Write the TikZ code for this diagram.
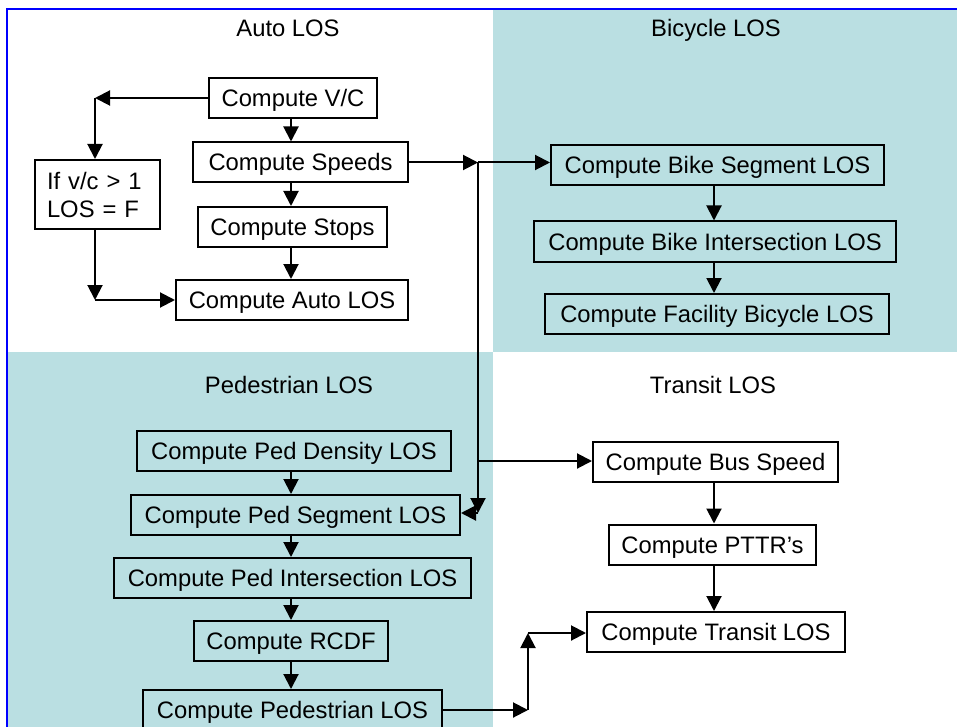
\documentclass[tikz,border=0pt]{standalone}
\usepackage{fontspec}
\setmainfont{Liberation Sans}
\usetikzlibrary{arrows.meta}
\definecolor{tealbg}{RGB}{186,223,226}
\definecolor{frameblue}{RGB}{0,0,255}
\tikzset{
  boxbase/.style={draw=black, line width=1pt, inner sep=0pt,
              font=\fontsize{11.9pt}{14pt}\selectfont},
  box/.style={boxbase, minimum height=20pt, text height=8.5pt, text depth=0pt},
  ttl/.style={font=\fontsize{11.9pt}{14pt}\selectfont, inner sep=0pt, text height=8.5pt, text depth=0pt},
  arr/.style={line width=1pt, -{Triangle[length=7.5pt,width=7.5pt]}},
  ln/.style={line width=1pt}
}
\begin{document}
\begin{tikzpicture}[x=0.5pt,y=-0.5pt]
\useasboundingbox (0,0) rectangle (957,727);
\clip (0,0) rectangle (957,727);
% backgrounds
\fill[tealbg] (493,9) rectangle (970,352);
\fill[tealbg] (7,352) rectangle (493,740);
\draw[frameblue, line width=1pt] (7,740) -- (7,9) -- (970,9);
% titles
\node[ttl] (tauto) at (288,28.5) {Auto LOS};
\node[ttl] (tbike) at (716,28.5) {Bicycle LOS};
\node[ttl] (tped) at (289,385) {Pedestrian LOS};
\node[ttl] (ttransit) at (713,385) {Transit LOS};
% auto
\node[box, minimum width=84pt] (vc) at (293,98) {Compute V/C};
\node[box, minimum width=107.5pt] (speeds) at (300.5,162.5) {Compute Speeds};
\node[box, minimum width=94.5pt] (stops) at (292.5,227) {Compute Stops};
\node[box, minimum width=116pt] (autolos) at (292,300) {Compute Auto LOS};
\node[boxbase, inner xsep=6pt, text width=50.5pt, minimum height=34.5pt, align=left] (ifbox) at (97.5,194.5) {If v/c > 1\\LOS = F};
% bike
\node[box, minimum width=166.5pt] (bikeseg) at (717.5,165) {Compute Bike Segment LOS};
\node[box, minimum width=181pt] (bikeint) at (715,241.5) {Compute Bike Intersection LOS};
\node[box, minimum width=172pt] (bikefac) at (717,314) {Compute Facility Bicycle LOS};
% ped
\node[box, minimum width=157pt] (peddens) at (294,451) {Compute Ped Density LOS};
\node[box, minimum width=164.5pt] (pedseg) at (295.5,515) {Compute Ped Segment LOS};
\node[box, minimum width=178.5pt] (pedint) at (292.5,578) {Compute Ped Intersection LOS};
\node[box, minimum width=97pt] (rcdf) at (291,641) {Compute RCDF};
\node[box, minimum width=149.5pt] (pedlos) at (292.5,710) {Compute Pedestrian LOS};
% transit
\node[box, minimum width=122.5pt] (bus) at (715.5,462) {Compute Bus Speed};
\node[box, minimum width=103.5pt] (pttr) at (712.5,544.5) {Compute PTTR’s};
\node[box, minimum width=129pt] (transit) at (716,632) {Compute Transit LOS};
% helper coordinates
\coordinate (ax) at (291,0);
\coordinate (bx) at (714,0);
\coordinate (c1) at (95,98);
\coordinate (c2) at (95,300);
\coordinate (j1) at (478,162.5);
\coordinate (j2) at (478,513);
\coordinate (j3) at (478,461);
\coordinate (k1) at (528,710);
\coordinate (k2) at (528,633);
% auto connectors
\draw[arr] (vc.south -| ax) -- (speeds.north -| ax);
\draw[arr] (speeds.south -| ax) -- (stops.north -| ax);
\draw[arr] (stops.south -| ax) -- (autolos.north -| ax);
\draw[arr] (vc.west) -- (c1);
\draw[arr] (c1) -- (ifbox.north -| c1);
\draw[arr] (ifbox.south -| c1) -- (c2);
\draw[arr] (c2) -- (autolos.west);
% speeds to bike & others
\draw[arr] (speeds.east) -- (j1);
\draw[arr] (j1) -- (j1 -| bikeseg.west);
\draw[arr] (j1) -- (j2);
\draw[arr] (j2) -- (j2 -| pedseg.east);
\draw[arr] (j3) -- (j3 -| bus.west);
% bike connectors
\draw[arr] (bikeseg.south -| bx) -- (bikeint.north -| bx);
\draw[arr] (bikeint.south -| bx) -- (bikefac.north -| bx);
% ped connectors
\draw[arr] (peddens.south -| ax) -- (pedseg.north -| ax);
\draw[arr] (pedseg.south -| ax) -- (pedint.north -| ax);
\draw[arr] (pedint.south -| ax) -- (rcdf.north -| ax);
\draw[arr] (rcdf.south -| ax) -- (pedlos.north -| ax);
\draw[arr] (pedlos.east) -- (k1);
\draw[arr] (k1) -- (k2);
\draw[arr] (k2) -- (k2 -| transit.west);
% transit connectors
\draw[arr] (bus.south -| bx) -- (pttr.north -| bx);
\draw[arr] (pttr.south -| bx) -- (transit.north -| bx);
\end{tikzpicture}
\end{document}
